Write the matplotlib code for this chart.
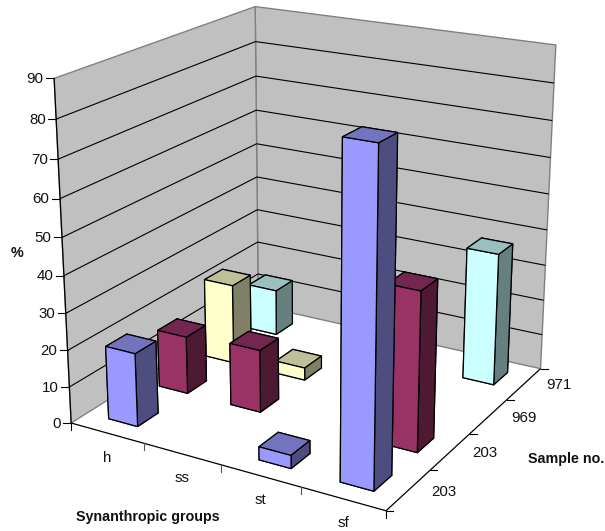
import numpy as np
import matplotlib
matplotlib.use("Agg")
import matplotlib.pyplot as plt
from mpl_toolkits.mplot3d.art3d import Poly3DCollection, Line3DCollection

plt.rcParams['font.family'] = ['Liberation Sans', 'DejaVu Sans']

# Data
grupos = ['h', 'ss', 'st', 'sf']
amostras = ['203', '203', '969', '971']
valores_203a = [20, 0, 3.5, 85]
valores_203b = [16, 17.2, 0, 42.5]
valores_969 = [22.6, 3.5, 0, 0]
valores_971 = [13.3, 0, 0, 37]
z_ticks = [0, 10, 20, 30, 40, 50, 60, 70, 80, 90]

# Face colours of each series: front, top, side
cores = [('#9999FF', '#7373BF', '#4D4D80'),
         ('#993366', '#732650', '#4D1933'),
         ('#FFFFCC', '#BFBF99', '#808066'),
         ('#CCFFFF', '#99BFBF', '#668080')]
series = [valores_203a, valores_203b, valores_969, valores_971]

W, H = 605, 531
n_x, n_y = len(grupos), len(amostras)
z_max = z_ticks[-1]

# Camera calibration: box corners and axis ticks -> pixels in the reference
calib_3d = [(0, 0, 0), (0, 0, 90), (0, 4, 90), (0, 4, 0), (4, 4, 90), (4, 4, 0), (4, 0, 0),
            (1, 0, 0), (2, 0, 0), (3, 0, 0), (4, 1, 0), (4, 2, 0), (4, 3, 0), (0, 0, 50), (0, 0, 40)]
calib_px = [(72, 423), (54, 78), (255, 7), (258, 305), (556, 45), (541, 369), (385, 511),
            (143, 444), (221, 465), (302, 487), (430, 470), (469, 433), (507, 400), (63, 237), (63, 276)]


def calcular_camera():
    linhas = []
    for (x, y, z), (u, v) in zip(calib_3d, calib_px):
        p = [x / 4, y / 4, z / 90, 1]
        linhas.append(p + [0, 0, 0, 0] + [-u * c for c in p])
        linhas.append([0, 0, 0, 0] + p + [-v * c for c in p])
    _, _, vt = np.linalg.svd(np.array(linhas, dtype=float))
    P = vt[-1].reshape(3, 4)
    if P[2, 3] < 0:
        P = -P
    P = P / P[2, 3]
    return P @ np.diag([1 / 4, 1 / 4, 1 / 90, 1])


P = calcular_camera()
M = np.vstack([P[0], P[1], [0, 0, 0, -1], P[2]])


def para_px(x, y, z):
    u, v, w = P @ np.array([x, y, z, 1.0])
    return u / w, v / w


fig = plt.figure(figsize=(W / 100, H / 100), dpi=100)
ax = fig.add_axes([0, 0, 1, 1], projection='3d')
ax.set_axis_off()
ax.computed_zorder = False
ax.get_proj = lambda: M
ax.apply_aspect = lambda position=None: None
ax.viewLim.intervalx = (0, W)
ax.viewLim.intervaly = (H, 0)

# Walls
parede_esq = [(0, 0, 0), (0, n_y, 0), (0, n_y, z_max), (0, 0, z_max)]
parede_fundo = [(0, n_y, 0), (n_x, n_y, 0), (n_x, n_y, z_max), (0, n_y, z_max)]
ax.add_collection3d(Poly3DCollection([parede_esq, parede_fundo], facecolor='#C0C0C0',
                                     edgecolor='#808080', linewidth=1.0, zorder=1))

# Gridlines on the walls
linhas_grade = [[(0, 0, z), (0, n_y, z), (n_x, n_y, z)] for z in z_ticks[1:-1]]
ax.add_collection3d(Line3DCollection(linhas_grade, colors='black', linewidths=0.8, zorder=2))

# Axis lines
linhas_eixo = [[(0, 0, 0), (n_x, 0, 0)], [(n_x, 0, 0), (n_x, n_y, 0)], [(0, 0, 0), (0, 0, z_max)]]
ax.add_collection3d(Line3DCollection(linhas_eixo, colors='black', linewidths=0.9, zorder=2))

# Bars, from the back row to the front, left to right
largura = 0.4
ordem = 3
for j in reversed(range(n_y)):
    frente, topo, lado = cores[j]
    for i in range(n_x):
        v = series[j][i]
        if v <= 0:
            continue
        ax.bar3d(i + 0.5 - largura / 2, j + 0.5 - largura / 2, 0, largura, largura, v,
                 color=[frente, topo, frente, frente, frente, lado], shade=False,
                 edgecolor='black', linewidth=0.9, zorder=ordem)
        ordem += 1

# 2D overlay in pixels for ticks and text
ov = fig.add_axes([0, 0, 1, 1])
ov.set_xlim(0, W)
ov.set_ylim(H, 0)
ov.axis('off')
ov.patch.set_alpha(0)

fs = 10.8
for z in z_ticks:
    u, v = para_px(0, 0, z)
    ov.plot([u - 8, u], [v, v], color='black', lw=0.8)
    ov.text(u - 10.5, v + 0.5, str(z), ha='right', va='center', fontsize=fs, color='#111111')

for i in range(n_x + 1):
    u, v = para_px(i, 0, 0)
    ov.plot([u, u], [v, v + 7], color='black' if i in (0, n_x) else '#555555', lw=0.8)
for j in range(n_y + 1):
    u, v = para_px(n_x, j, 0)
    ov.plot([u, u + 7], [v, v], color='black', lw=0.8)

for i, rotulo in enumerate(grupos):
    u, v = para_px(i + 0.5, 0, 0)
    ov.text(u, v + 24.5, rotulo, ha='center', va='center', fontsize=fs, color='#111111')
for j, rotulo in enumerate(amostras):
    u, v = para_px(n_x, j + 0.5, 0)
    ov.text(u + 35, v + 1.5, rotulo, ha='center', va='center', fontsize=fs, color='#111111')

ov.text(17, 253, '%', ha='center', va='center', fontsize=10.3, fontweight='bold', color='#111111')
ov.text(148, 517, 'Synanthropic groups', ha='center', va='center', fontsize=10.3, fontweight='bold', color='#111111')
ov.text(566, 459, 'Sample no.', ha='center', va='center', fontsize=10.3, fontweight='bold', color='#111111')

fig.savefig('out.png', dpi=100)
